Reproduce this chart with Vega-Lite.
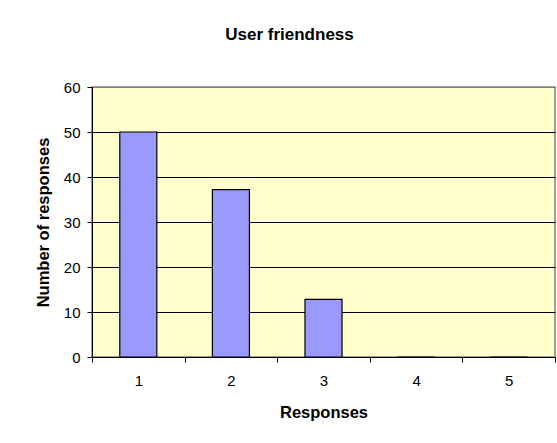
{
  "$schema": "https://vega.github.io/schema/vega-lite/v6.json",
  "autosize": {"type": "none"},
  "padding": {"left": 92, "top": 87, "right": 2, "bottom": 86},
  "width": 463,
  "height": 270,
  "background": "white",
  "title": {
    "text": "User friendness",
    "anchor": "middle",
    "dx": -34,
    "offset": 36,
    "font": "Liberation Sans",
    "fontSize": 17,
    "fontWeight": "bold",
    "color": "black"
  },
  "data": {
    "values": [
      {"response": "1", "count": 50},
      {"response": "2", "count": 37.2},
      {"response": "3", "count": 12.8},
      {"response": "4", "count": 0},
      {"response": "5", "count": 0}
    ]
  },
  "mark": {
    "type": "bar",
    "width": {"band": 0.4},
    "fill": "#9999FF",
    "stroke": "black",
    "strokeWidth": 1.2
  },
  "encoding": {
    "x": {
      "field": "response",
      "type": "ordinal",
      "scale": {"paddingInner": 0, "paddingOuter": 0},
      "axis": {
        "title": "Responses",
        "labelAngle": 0,
        "tickBand": "extent",
        "tickSize": 5,
        "labelPadding": 11,
        "titlePadding": 16
      }
    },
    "y": {
      "field": "count",
      "type": "quantitative",
      "scale": {"domain": [0, 60], "nice": false},
      "axis": {
        "title": "Number of responses",
        "values": [0, 10, 20, 30, 40, 50, 60],
        "grid": true,
        "gridColor": {"condition": {"test": "datum.value === 60", "value": "#808080"}, "value": "black"},
        "gridOpacity": 1,
        "gridWidth": 1,
        "tickSize": 5,
        "labelPadding": 7,
        "titlePadding": 12
      }
    }
  },
  "config": {
    "view": {"fill": "#FFFFCC", "stroke": "#808080", "strokeWidth": 1.5},
    "axis": {
      "domainColor": "black",
      "domainWidth": 1,
      "tickColor": "black",
      "labelFont": "Liberation Sans",
      "labelFontSize": 15,
      "labelColor": "black",
      "titleFont": "Liberation Sans",
      "titleFontSize": 16.5,
      "titleFontWeight": "bold",
      "titleColor": "black"
    }
  }
}
